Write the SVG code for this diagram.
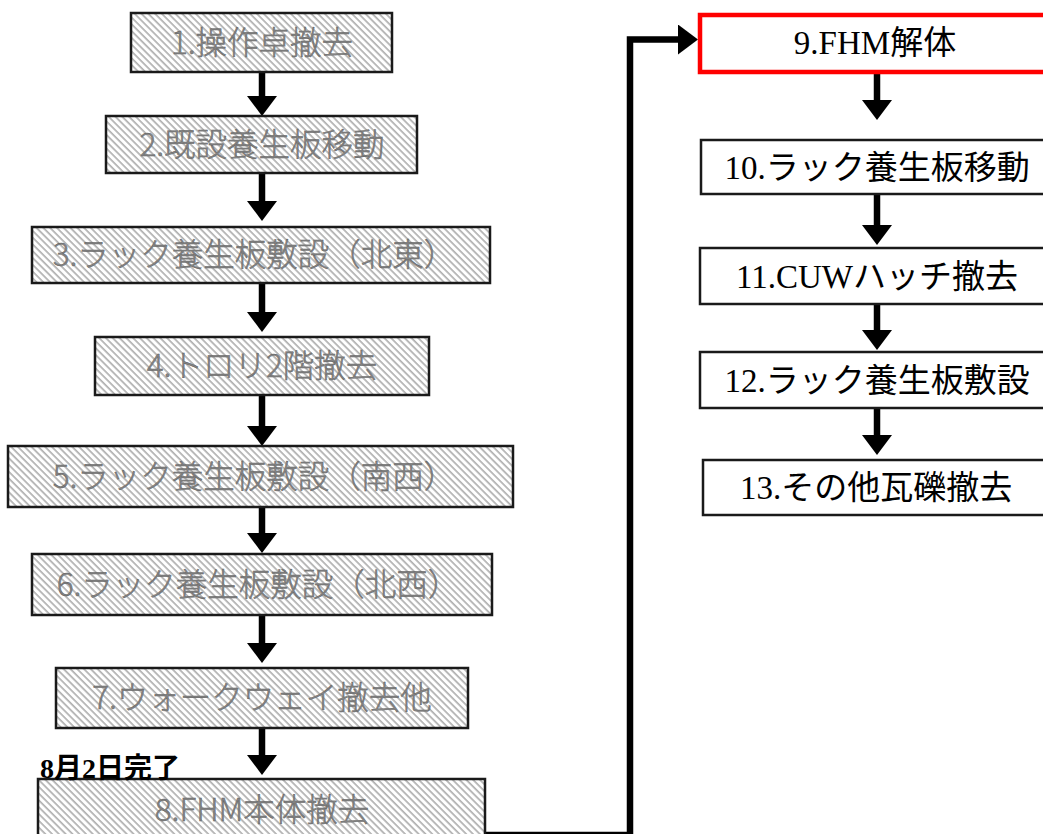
<svg xmlns="http://www.w3.org/2000/svg" width="1043" height="834" viewBox="0 0 1043 834">
<style>
.hb{fill:url(#hatch);stroke:#1a1a1a;stroke-width:2.5}
.ht{font-family:"Noto Sans CJK JP","Noto Sans",sans-serif;font-size:31.5px;font-weight:300;fill:#858585;stroke:#5a5a5a;stroke-width:0.4;text-anchor:middle}
.wb{fill:#fff;stroke:#1a1a1a;stroke-width:2.5}
.rb{fill:#fff;stroke:#ff0000;stroke-width:4.5}
.wt{font-family:"Liberation Serif","Noto Sans CJK JP",serif;font-size:33px;fill:#000;text-anchor:middle}
.ar{stroke:#000;stroke-width:6.5;fill:none;marker-end:url(#ah)}
.lb{font-family:"Liberation Serif","Noto Sans CJK JP",serif;font-size:28px;font-weight:bold;fill:#000}
</style>
<defs>
<pattern id="hatch" patternUnits="userSpaceOnUse" width="4.8" height="4.8" patternTransform="rotate(45)">
<rect width="4.8" height="4.8" fill="#fff"/>
<rect y="0" width="4.8" height="1.7" fill="#b0b0b0"/>
</pattern>
<marker id="ah" markerUnits="userSpaceOnUse" markerWidth="20" markerHeight="30" viewBox="0 0 20 30" refX="8" refY="15" orient="auto">
<path d="M0,0 L20,15 L0,30 Z" fill="#000"/>
</marker>
</defs>
<rect width="1043" height="834" fill="#fff"/>
<g id="connectors">
<path class="ar" d="M262,72 V104"/>
<path class="ar" d="M262,174 V209"/>
<path class="ar" d="M262,284 V320"/>
<path class="ar" d="M262,396 V434"/>
<path class="ar" d="M262,508 V541"/>
<path class="ar" d="M262,616 V651"/>
<path class="ar" d="M262,729 V763"/>
<path class="ar" d="M485,835 H630 V39.5 H686"/>
<path class="ar" d="M877,74 V108"/>
<path class="ar" d="M877,195 V233"/>
<path class="ar" d="M877,305 V338"/>
<path class="ar" d="M877,409 V443"/>
</g>
<g id="n1"><rect class="hb" x="131" y="13" width="261" height="59"/><text class="ht" x="262" y="54">1.操作卓撤去</text></g>
<g id="n2"><rect class="hb" x="106" y="116" width="311" height="57"/><text class="ht" x="262" y="156">2.既設養生板移動</text></g>
<g id="n3"><rect class="hb" x="32" y="227" width="458" height="56"/><text class="ht" x="254" y="266">3.ラック養生板敷設（北東）</text></g>
<g id="n4"><rect class="hb" x="95" y="337" width="334" height="58"/><text class="ht" x="262" y="377">4.トロリ2階撤去</text></g>
<g id="n5"><rect class="hb" x="8" y="446" width="505" height="61"/><text class="ht" x="254" y="488">5.ラック養生板敷設（南西）</text></g>
<g id="n6"><rect class="hb" x="32" y="554" width="460" height="61"/><text class="ht" x="258" y="596">6.ラック養生板敷設（北西）</text></g>
<g id="n7"><rect class="hb" x="56" y="668" width="412" height="60"/><text class="ht" x="262" y="709">7.ウォークウェイ撤去他</text></g>
<g id="n8"><rect class="hb" x="38" y="779" width="447" height="70"/><text class="ht" x="262" y="821">8.FHM本体撤去</text></g>
<g id="lbl8"><text class="lb" x="40" y="778">8月2日完了</text></g>
<g id="n9"><rect class="rb" x="700" y="15" width="360" height="57"/><text class="wt" x="875" y="54">9.FHM解体</text></g>
<g id="n10"><rect class="wb" x="701" y="140" width="360" height="54"/><text class="wt" x="877" y="179">10.ラック養生板移動</text></g>
<g id="n11"><rect class="wb" x="700" y="248" width="360" height="56"/><text class="wt" x="877" y="288">11.CUWハッチ撤去</text></g>
<g id="n12"><rect class="wb" x="700" y="352" width="360" height="56"/><text class="wt" x="877" y="392">12.ラック養生板敷設</text></g>
<g id="n13"><rect class="wb" x="703" y="460" width="360" height="55"/><text class="wt" x="876" y="499">13.その他瓦礫撤去</text></g>
</svg>
